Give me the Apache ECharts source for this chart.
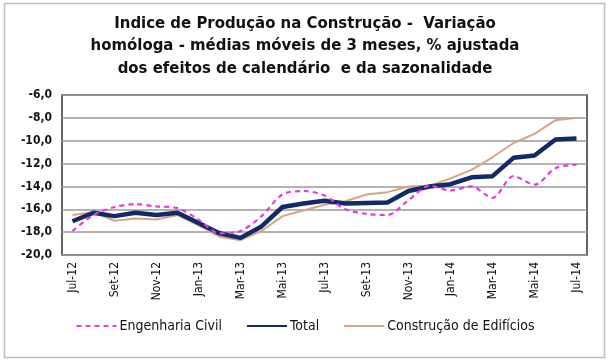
<!DOCTYPE html>
<html><head><meta charset="utf-8">
<script src="https://cdn.jsdelivr.net/npm/echarts@6/dist/echarts.min.js"></script>
<style>html,body{margin:0;padding:0;background:#fff}#c{width:610px;height:363px}</style>
</head><body><div id="c"></div>
<script>
const categories = ['Jul-12','Ago-12','Set-12','Out-12','Nov-12','Dez-12','Jan-13','Fev-13','Mar-13','Abr-13','Mai-13','Jun-13','Jul-13','Ago-13','Set-13','Out-13','Nov-13','Dez-13','Jan-14','Fev-14','Mar-14','Abr-14','Mai-14','Jun-14','Jul-14'];
const engenhariaCivil = [-17.9,-16.5,-15.8,-15.55,-15.75,-15.9,-16.9,-18.1,-17.9,-16.6,-14.7,-14.4,-14.8,-16.0,-16.4,-16.5,-15.2,-13.95,-14.35,-14.0,-15.0,-13.1,-13.85,-12.4,-12.1];
const total = [-17.05,-16.3,-16.6,-16.3,-16.5,-16.3,-17.2,-18.1,-18.5,-17.5,-15.8,-15.5,-15.25,-15.5,-15.45,-15.4,-14.4,-14.0,-13.8,-13.2,-13.1,-11.5,-11.3,-9.9,-9.8];
const edificios = [-16.5,-16.25,-17.0,-16.8,-16.9,-16.5,-17.4,-18.4,-18.7,-17.9,-16.6,-16.1,-15.6,-15.3,-14.7,-14.5,-14.0,-13.95,-13.3,-12.55,-11.45,-10.2,-9.4,-8.2,-8.0];
const titleText = 'Indice de Produção na Construção -  Variação\nhomóloga - médias móveis de 3 meses, % ajustada\ndos efeitos de calendário  e da sazonalidade';
const yMin = -20, yMax = -6, yStep = 2;

const chart = echarts.init(document.getElementById('c'));
chart.setOption({
  animation: false,
  backgroundColor: '#fff',
  graphic: [{type:'rect', shape:{x:4.5,y:3.5,width:600,height:354}, style:{fill:'none', stroke:'#bdbdbd', lineWidth:1.5}, silent:true}],
  title: {
    text: titleText, left: 'center', top: 7,
    textStyle: {fontFamily:'DejaVu Sans Condensed, DejaVu Sans', fontWeight:'bold', fontSize:16.6, lineHeight:22.5, color:'#111'}
  },
  grid: {left:62, right:23, top:95, bottom:108, show:true, borderColor:'#333', borderWidth:1.5, backgroundColor:'#fff'},
  legend: {
    data: ['Engenharia Civil','Total','Construção de Edifícios'],
    bottom: 25, left: 'center', itemWidth: 40, itemHeight: 10, itemGap: 24,
    itemStyle: {opacity: 0},
    textStyle: {fontFamily:'DejaVu Sans Condensed, DejaVu Sans', fontSize:14, color:'#111', padding:[0,0,0,-2]}
  },
  xAxis: {
    type:'category', data: categories, boundaryGap: true,
    axisLine:{show:false}, axisTick:{show:false},
    axisLabel:{interval:1, rotate:90, margin:7, fontFamily:'DejaVu Sans Condensed, DejaVu Sans', fontSize:12, color:'#111'}
  },
  yAxis: {
    type:'value', min:yMin, max:yMax, interval:yStep,
    axisLine:{show:false}, axisTick:{show:false},
    splitLine:{lineStyle:{color:'#9a9a9a', width:1.5}},
    axisLabel:{margin:10, fontFamily:'DejaVu Sans Condensed, DejaVu Sans', fontWeight:'bold', fontSize:12, color:'#111',
      formatter: v => v.toFixed(1).replace('.', ',')}
  },
  series: [
    {name:'Construção de Edifícios', type:'line', data: edificios, symbol:'none', z:2,
      lineStyle:{color:'#d4a584', width:2}, itemStyle:{color:'#d4a584'}},
    {name:'Total', type:'line', data: total, symbol:'none', z:3,
      lineStyle:{color:'#142a63', width:4.5}, itemStyle:{color:'#142a63'}},
    {name:'Engenharia Civil', type:'line', data: engenhariaCivil, symbol:'none', smooth:0.3, z:4,
      lineStyle:{color:'#e03ee0', width:2.2, type:[5,4]}, itemStyle:{color:'#e03ee0'}}
  ]
});
</script></body></html>
